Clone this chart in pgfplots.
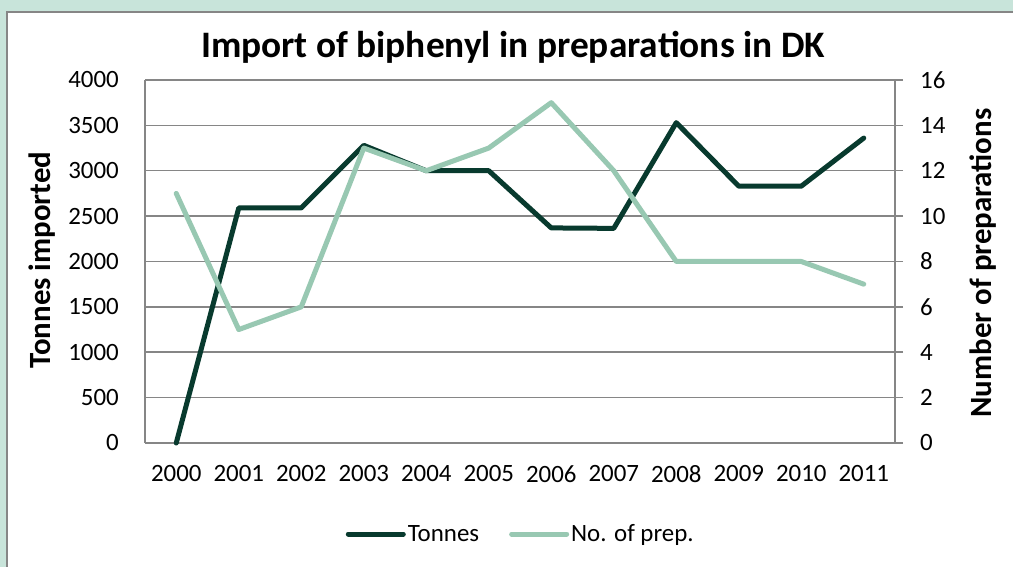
\documentclass[border=0pt]{standalone}
\usepackage{fontspec}
\setmainfont{Carlito}
\usepackage{pgfplots}
\pgfplotsset{compat=1.18}
\definecolor{tonc}{RGB}{8,58,46}
\definecolor{prepc}{RGB}{152,200,178}
\definecolor{gridc}{RGB}{134,134,134}
\definecolor{bgc}{RGB}{200,228,218}
\begin{document}
\begin{tikzpicture}[x=1bp,y=1bp]
\useasboundingbox (0,0) rectangle (1013,567);
\fill[bgc] (0,0) rectangle (1013,567);
\draw[gridc, line width=1.5bp, fill=white] (7,-10) rectangle (1030,555);
\node[font=\fontsize{37.5}{44}\selectfont\bfseries] at (513,520) {Import of biphenyl in preparations in DK};
\node[rotate=90, font=\fontsize{31}{37}\selectfont\bfseries] at (42,307) {Tonnes imported};
\node[rotate=90, font=\fontsize{31}{37}\selectfont\bfseries] at (983,304) {Number of preparations};
\begin{axis}[
  at={(145bp,124bp)}, anchor=south west,
  scale only axis, width=750bp, height=363bp,
  xmin=-0.5, xmax=11.5, ymin=0, ymax=4000,
  xtick={0,...,11},
  xticklabels={2000,2001,2002,2003,2004,2005,2006,2007,2008,2009,2010,2011},
  ytick={0,500,...,4000},
  major tick length=0pt,
  axis line style={gridc, line width=1.5bp},
  ymajorgrids, grid style={gridc, line width=1.5bp},
  axis x line*=bottom, axis y line*=left,
  /pgf/number format/assume math mode=true,
  /pgf/number format/1000 sep={},
  tick label style={font=\fontsize{25}{30}\selectfont, inner sep=0pt},
  yticklabel style={anchor=east, xshift=-26bp},
  xticklabel style={anchor=north, yshift=-22bp},
  clip=false,
  legend style={draw=none, at={(0.501,-0.2507)}, anchor=center, legend columns=2,
    font=\fontsize{25}{30}\selectfont, fill=none,
    /tikz/every even column/.append style={column sep=28bp}},
  legend image code/.code={\draw[#1] (0bp,0bp) -- (55bp,0bp);},
]
\addplot[tonc, line width=5bp, line cap=round, line join=round] coordinates {
(0,0) (1,2590) (2,2590) (3,3280) (4,3000) (5,3000) (6,2370) (7,2365) (8,3530) (9,2830) (10,2830) (11,3360)};
\addlegendentry{Tonnes}
\addlegendimage{prepc, line width=5bp, line cap=round}
\addlegendentry{No. of prep.}
\end{axis}
\begin{axis}[
  at={(145bp,124bp)}, anchor=south west,
  scale only axis, width=750bp, height=363bp,
  xmin=-0.5, xmax=11.5, ymin=0, ymax=16,
  ytick={0,2,...,16},
  axis x line=none, axis y line*=right,
  axis line style={gridc, line width=1.5bp},
  ytick style={gridc, line width=1.5bp},
  major tick length=8bp, tick align=outside,
  /pgf/number format/assume math mode=true,
  tick label style={font=\fontsize{25}{30}\selectfont, inner sep=0pt},
  yticklabel style={anchor=west, xshift=17bp},
  clip=false,
]
\addplot[prepc, line width=5bp, line cap=round, line join=round] coordinates {
(0,11) (1,5) (2,6) (3,13) (4,12) (5,13) (6,15) (7,12) (8,8) (9,8) (10,8) (11,7)};
\end{axis}
\end{tikzpicture}
\end{document}
